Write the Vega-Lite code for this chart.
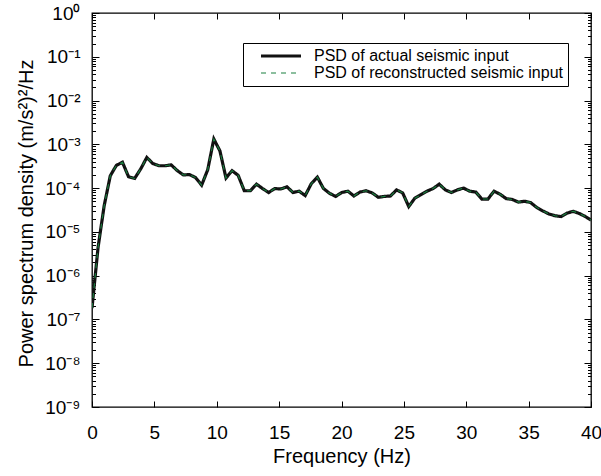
{
  "$schema": "https://vega.github.io/schema/vega-lite/v6.json",
  "width": 499,
  "height": 394,
  "autosize": {"type": "none"},
  "padding": {"left": 92, "top": 13, "right": 10, "bottom": 69},
  "background": "white",
  "config": {
    "font": "Liberation Sans",
    "view": {"stroke": "black", "strokeWidth": 1.3},
    "axis": {"domain": false, "grid": false, "tickColor": "black", "labelColor": "black", "titleColor": "black", "labelFont": "Liberation Sans", "titleFont": "Liberation Sans", "titleFontWeight": "normal"},
    "legend": {"labelFont": "Liberation Sans"}
  },
  "datasets": {
    "psd": [
      {"f": 0, "actual": 1.82e-7, "reconstructed": 1.82e-7},
      {"f": 0.488, "actual": 4.47e-6, "reconstructed": 4.47e-6},
      {"f": 0.977, "actual": 3.98e-5, "reconstructed": 3.98e-5},
      {"f": 1.465, "actual": 1.91e-4, "reconstructed": 1.91e-4},
      {"f": 1.953, "actual": 3.31e-4, "reconstructed": 3.31e-4},
      {"f": 2.441, "actual": 3.89e-4, "reconstructed": 3.89e-4},
      {"f": 2.93, "actual": 1.82e-4, "reconstructed": 1.82e-4},
      {"f": 3.418, "actual": 1.66e-4, "reconstructed": 1.66e-4},
      {"f": 3.906, "actual": 2.75e-4, "reconstructed": 2.75e-4},
      {"f": 4.395, "actual": 5.01e-4, "reconstructed": 5.01e-4},
      {"f": 4.883, "actual": 3.63e-4, "reconstructed": 3.63e-4},
      {"f": 5.371, "actual": 3.24e-4, "reconstructed": 3.24e-4},
      {"f": 5.859, "actual": 3.24e-4, "reconstructed": 3.24e-4},
      {"f": 6.348, "actual": 3.39e-4, "reconstructed": 3.39e-4},
      {"f": 6.836, "actual": 2.51e-4, "reconstructed": 2.51e-4},
      {"f": 7.324, "actual": 2.0e-4, "reconstructed": 2.0e-4},
      {"f": 7.813, "actual": 2.04e-4, "reconstructed": 2.04e-4},
      {"f": 8.301, "actual": 1.74e-4, "reconstructed": 1.74e-4},
      {"f": 8.789, "actual": 1.17e-4, "reconstructed": 1.17e-4},
      {"f": 9.277, "actual": 2.63e-4, "reconstructed": 2.63e-4},
      {"f": 9.766, "actual": 1.32e-3, "reconstructed": 1.32e-3},
      {"f": 10.254, "actual": 7.08e-4, "reconstructed": 7.08e-4},
      {"f": 10.742, "actual": 1.70e-4, "reconstructed": 1.70e-4},
      {"f": 11.23, "actual": 2.51e-4, "reconstructed": 2.51e-4},
      {"f": 11.719, "actual": 1.95e-4, "reconstructed": 1.95e-4},
      {"f": 12.207, "actual": 8.71e-5, "reconstructed": 8.71e-5},
      {"f": 12.695, "actual": 8.71e-5, "reconstructed": 8.71e-5},
      {"f": 13.184, "actual": 1.23e-4, "reconstructed": 1.23e-4},
      {"f": 13.672, "actual": 9.77e-5, "reconstructed": 9.77e-5},
      {"f": 14.16, "actual": 7.94e-5, "reconstructed": 7.94e-5},
      {"f": 14.648, "actual": 9.77e-5, "reconstructed": 9.77e-5},
      {"f": 15.137, "actual": 9.55e-5, "reconstructed": 9.55e-5},
      {"f": 15.625, "actual": 1.07e-4, "reconstructed": 1.07e-4},
      {"f": 16.113, "actual": 7.94e-5, "reconstructed": 7.94e-5},
      {"f": 16.602, "actual": 8.51e-5, "reconstructed": 8.51e-5},
      {"f": 17.09, "actual": 6.76e-5, "reconstructed": 6.76e-5},
      {"f": 17.578, "actual": 1.26e-4, "reconstructed": 1.26e-4},
      {"f": 18.066, "actual": 1.78e-4, "reconstructed": 1.78e-4},
      {"f": 18.555, "actual": 9.77e-5, "reconstructed": 9.77e-5},
      {"f": 19.043, "actual": 7.59e-5, "reconstructed": 7.59e-5},
      {"f": 19.531, "actual": 6.46e-5, "reconstructed": 6.46e-5},
      {"f": 20.02, "actual": 7.94e-5, "reconstructed": 7.94e-5},
      {"f": 20.508, "actual": 8.51e-5, "reconstructed": 8.51e-5},
      {"f": 20.996, "actual": 6.61e-5, "reconstructed": 6.61e-5},
      {"f": 21.484, "actual": 8.13e-5, "reconstructed": 8.13e-5},
      {"f": 21.973, "actual": 8.71e-5, "reconstructed": 8.71e-5},
      {"f": 22.461, "actual": 7.76e-5, "reconstructed": 7.76e-5},
      {"f": 22.949, "actual": 6.17e-5, "reconstructed": 6.17e-5},
      {"f": 23.438, "actual": 6.46e-5, "reconstructed": 6.46e-5},
      {"f": 23.926, "actual": 6.61e-5, "reconstructed": 6.61e-5},
      {"f": 24.414, "actual": 9.12e-5, "reconstructed": 9.12e-5},
      {"f": 24.902, "actual": 7.76e-5, "reconstructed": 7.76e-5},
      {"f": 25.391, "actual": 3.80e-5, "reconstructed": 3.80e-5},
      {"f": 25.879, "actual": 5.89e-5, "reconstructed": 5.89e-5},
      {"f": 26.367, "actual": 7.08e-5, "reconstructed": 7.08e-5},
      {"f": 26.855, "actual": 8.51e-5, "reconstructed": 8.51e-5},
      {"f": 27.344, "actual": 9.77e-5, "reconstructed": 9.77e-5},
      {"f": 27.832, "actual": 1.23e-4, "reconstructed": 1.23e-4},
      {"f": 28.32, "actual": 9.12e-5, "reconstructed": 9.12e-5},
      {"f": 28.809, "actual": 7.94e-5, "reconstructed": 7.94e-5},
      {"f": 29.297, "actual": 9.12e-5, "reconstructed": 9.12e-5},
      {"f": 29.785, "actual": 1.0e-4, "reconstructed": 1.0e-4},
      {"f": 30.273, "actual": 8.51e-5, "reconstructed": 8.51e-5},
      {"f": 30.762, "actual": 8.13e-5, "reconstructed": 8.13e-5},
      {"f": 31.25, "actual": 5.62e-5, "reconstructed": 5.62e-5},
      {"f": 31.738, "actual": 5.62e-5, "reconstructed": 5.62e-5},
      {"f": 32.227, "actual": 8.51e-5, "reconstructed": 8.51e-5},
      {"f": 32.715, "actual": 7.24e-5, "reconstructed": 7.24e-5},
      {"f": 33.203, "actual": 5.75e-5, "reconstructed": 5.75e-5},
      {"f": 33.691, "actual": 5.50e-5, "reconstructed": 5.50e-5},
      {"f": 34.18, "actual": 4.79e-5, "reconstructed": 4.79e-5},
      {"f": 34.668, "actual": 5.01e-5, "reconstructed": 5.01e-5},
      {"f": 35.156, "actual": 4.68e-5, "reconstructed": 4.68e-5},
      {"f": 35.645, "actual": 3.63e-5, "reconstructed": 3.63e-5},
      {"f": 36.133, "actual": 3.02e-5, "reconstructed": 3.02e-5},
      {"f": 36.621, "actual": 2.57e-5, "reconstructed": 2.57e-5},
      {"f": 37.109, "actual": 2.34e-5, "reconstructed": 2.34e-5},
      {"f": 37.598, "actual": 2.24e-5, "reconstructed": 2.24e-5},
      {"f": 38.086, "actual": 2.69e-5, "reconstructed": 2.69e-5},
      {"f": 38.574, "actual": 2.95e-5, "reconstructed": 2.95e-5},
      {"f": 39.063, "actual": 2.63e-5, "reconstructed": 2.63e-5},
      {"f": 39.551, "actual": 2.24e-5, "reconstructed": 2.24e-5},
      {"f": 40.0, "actual": 1.86e-5, "reconstructed": 1.86e-5}
    ]
  },
  "data": {"name": "psd"},
  "transform": [{"fold": ["actual", "reconstructed"], "as": ["series", "psd"]}],
  "resolve": {"axis": {"x": "independent", "y": "independent"}},
  "layer": [
    {
      "mark": {"type": "line", "clip": true},
      "encoding": {
        "x": {
          "field": "f", "type": "quantitative",
          "scale": {"domain": [0, 40], "nice": false},
          "axis": {"orient": "bottom", "values": [0, 5, 10, 15, 20, 25, 30, 35, 40], "tickSize": -6, "labelPadding": 22, "labelFontSize": 19, "labelFlush": false, "title": "Frequency (Hz)", "titleFontSize": 20, "titleY": 55, "titleBaseline": "alphabetic"}
        },
        "y": {
          "field": "psd", "type": "quantitative",
          "scale": {"type": "log", "domain": [1e-9, 1], "nice": false},
          "axis": {"orient": "left", "values": [1e-9, 1e-8, 1e-7, 1e-6, 1e-5, 1e-4, 1e-3, 1e-2, 1e-1, 1], "tickSize": -7, "labelPadding": 19, "labelFontSize": 19, "labelFlush": false,
            "labelExpr": "['10⁻⁹','10⁻⁸','10⁻⁷','10⁻⁶','10⁻⁵','10⁻⁴','10⁻³','10⁻²','10⁻¹','10⁰'][round(log(datum.value)/LN10)+9]",
            "title": "Power spectrum density (m/s²)²/Hz", "titleFontSize": 20, "titleX": -60, "titleY": 200, "titleBaseline": "alphabetic"}
        },
        "color": {
          "field": "series", "type": "nominal",
          "scale": {"domain": ["actual", "reconstructed"], "range": ["#111111", "#1a8040"]},
          "legend": {
            "title": null, "orient": "none", "legendX": 151, "legendY": 30,
            "strokeColor": "black", "padding": 5, "fillColor": "white",
            "symbolType": "M-4,0H4", "symbolSize": 100, "symbolOffset": 25, "labelOffset": 25,
            "labelFontSize": 16, "labelLimit": 400, "rowPadding": 1,
            "labelExpr": "datum.label == 'actual' ? 'PSD of actual seismic input' : 'PSD of reconstructed seismic input'"
          }
        },
        "strokeDash": {
          "field": "series", "type": "nominal",
          "scale": {"domain": ["actual", "reconstructed"], "range": [[1, 0], [5, 5]]}
        },
        "strokeWidth": {
          "field": "series", "type": "nominal",
          "scale": {"type": "ordinal", "domain": ["actual", "reconstructed"], "range": [3.2, 1.1]}
        }
      }
    },
    {
      "mark": {"type": "point", "opacity": 0},
      "encoding": {
        "x": {"field": "f", "type": "quantitative", "axis": {"orient": "top", "values": [0, 5, 10, 15, 20, 25, 30, 35, 40], "tickSize": -6, "labels": false, "title": null}},
        "y": {"field": "psd", "type": "quantitative", "axis": {"orient": "right", "values": [1e-9, 1e-8, 1e-7, 1e-6, 1e-5, 1e-4, 1e-3, 1e-2, 1e-1, 1], "tickSize": -7, "labels": false, "title": null}}
      }
    },
    {
      "mark": {"type": "point", "opacity": 0},
      "encoding": {
        "x": {"field": "f", "type": "quantitative", "axis": null},
        "y": {"field": "psd", "type": "quantitative", "axis": {"orient": "left", "tickSize": -3.5, "labels": false, "title": null,
          "values": [2e-9,3e-9,4e-9,5e-9,6e-9,7e-9,8e-9,9e-9,2e-8,3e-8,4e-8,5e-8,6e-8,7e-8,8e-8,9e-8,2e-7,3e-7,4e-7,5e-7,6e-7,7e-7,8e-7,9e-7,2e-6,3e-6,4e-6,5e-6,6e-6,7e-6,8e-6,9e-6,2e-5,3e-5,4e-5,5e-5,6e-5,7e-5,8e-5,9e-5,2e-4,3e-4,4e-4,5e-4,6e-4,7e-4,8e-4,9e-4,2e-3,3e-3,4e-3,5e-3,6e-3,7e-3,8e-3,9e-3,2e-2,3e-2,4e-2,5e-2,6e-2,7e-2,8e-2,9e-2,0.2,0.3,0.4,0.5,0.6,0.7,0.8,0.9]}}
      }
    },
    {
      "mark": {"type": "point", "opacity": 0},
      "encoding": {
        "x": {"field": "f", "type": "quantitative", "axis": null},
        "y": {"field": "psd", "type": "quantitative", "axis": {"orient": "right", "tickSize": -3.5, "labels": false, "title": null,
          "values": [2e-9,3e-9,4e-9,5e-9,6e-9,7e-9,8e-9,9e-9,2e-8,3e-8,4e-8,5e-8,6e-8,7e-8,8e-8,9e-8,2e-7,3e-7,4e-7,5e-7,6e-7,7e-7,8e-7,9e-7,2e-6,3e-6,4e-6,5e-6,6e-6,7e-6,8e-6,9e-6,2e-5,3e-5,4e-5,5e-5,6e-5,7e-5,8e-5,9e-5,2e-4,3e-4,4e-4,5e-4,6e-4,7e-4,8e-4,9e-4,2e-3,3e-3,4e-3,5e-3,6e-3,7e-3,8e-3,9e-3,2e-2,3e-2,4e-2,5e-2,6e-2,7e-2,8e-2,9e-2,0.2,0.3,0.4,0.5,0.6,0.7,0.8,0.9]}}
      }
    }
  ]
}
